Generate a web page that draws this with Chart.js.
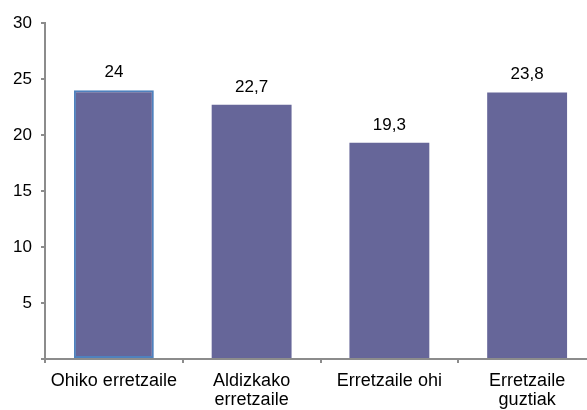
<!DOCTYPE html>
<html>
<head>
<meta charset="utf-8">
<script src="https://cdn.jsdelivr.net/npm/chart.js@4/dist/chart.umd.min.js"></script>
<style>
html,body{margin:0;padding:0;background:#fff;overflow:hidden;}
#wrap{width:596px;height:410px;position:relative;}
</style>
</head>
<body>
<div id="wrap"><canvas id="c"></canvas></div>
<script>
const categories = [["Ohiko erretzaile"], ["Aldizkako", "erretzaile"], ["Erretzaile ohi"], ["Erretzaile", "guztiak"]];
const values = [24, 22.7, 19.3, 23.8];
const valueLabels = ["24", "22,7", "19,3", "23,8"];
const yTicks = [5, 10, 15, 20, 25, 30];

const FONT = "'Liberation Sans', Arial, sans-serif";
const AXIS = "#8c8c8c";

const valuePlugin = {
  id: 'valueLabels',
  afterDatasetsDraw(chart) {
    const ctx = chart.ctx;
    const meta = chart.getDatasetMeta(0);
    ctx.save();
    ctx.font = "17px " + FONT;
    ctx.fillStyle = "#000";
    ctx.textAlign = "center";
    ctx.textBaseline = "alphabetic";
    meta.data.forEach((bar, i) => {
      ctx.fillText(valueLabels[i], bar.x, bar.y - 13);
    });
    ctx.restore();
  }
};

const axisExt = {
  id: 'axisExt',
  afterDraw(chart) {
    const ctx = chart.ctx;
    const y = chart.scales.y.getPixelForValue(0);
    ctx.save();
    ctx.strokeStyle = AXIS;
    ctx.lineWidth = 2;
    ctx.beginPath();
    ctx.moveTo(chart.chartArea.right, y);
    ctx.lineTo(chart.width, y);
    ctx.stroke();
    ctx.restore();
  }
};

new Chart(document.getElementById('c'), {
  type: 'bar',
  data: {
    labels: categories,
    datasets: [{
      data: values,
      backgroundColor: "#666699",
      borderColor: ["#4f81bd", "rgba(0,0,0,0)", "rgba(0,0,0,0)", "rgba(0,0,0,0)"],
      borderWidth: [2, 0, 0, 0],
      borderSkipped: false,
      barPercentage: 0.58,
      categoryPercentage: 1.0
    }]
  },
  options: {
    responsive: true,
    maintainAspectRatio: false,
    animation: false,
    layout: { padding: { left: 0, right: 0, top: 23, bottom: 0 } },
    plugins: { legend: { display: false }, tooltip: { enabled: false } },
    scales: {
      x: {
        offset: true,
        grid: { display: true, drawOnChartArea: false, offset: true, tickLength: 4, color: AXIS, lineWidth: 2 },
        border: { display: true, color: AXIS, width: 2 },
        ticks: { color: "#000", font: { family: FONT, size: 18, lineHeight: 1.05 }, padding: 9, maxRotation: 0, autoSkip: false },
        afterFit(s) { s.height = 51; }
      },
      y: {
        min: 0, max: 30,
        afterBuildTicks(s) { s.ticks = [0].concat(yTicks).map(v => ({ value: v })); },
        grid: { display: true, drawOnChartArea: false, tickLength: 4, color: AXIS, lineWidth: 2 },
        border: { display: true, color: AXIS, width: 2 },
        ticks: { color: "#000", font: { family: FONT, size: 17 }, padding: 9,
          callback: v => v === 0 ? "" : String(v) },
        afterFit(s) { s.width = 45; }
      }
    }
  },
  plugins: [valuePlugin, axisExt]
});
</script>
</body>
</html>
